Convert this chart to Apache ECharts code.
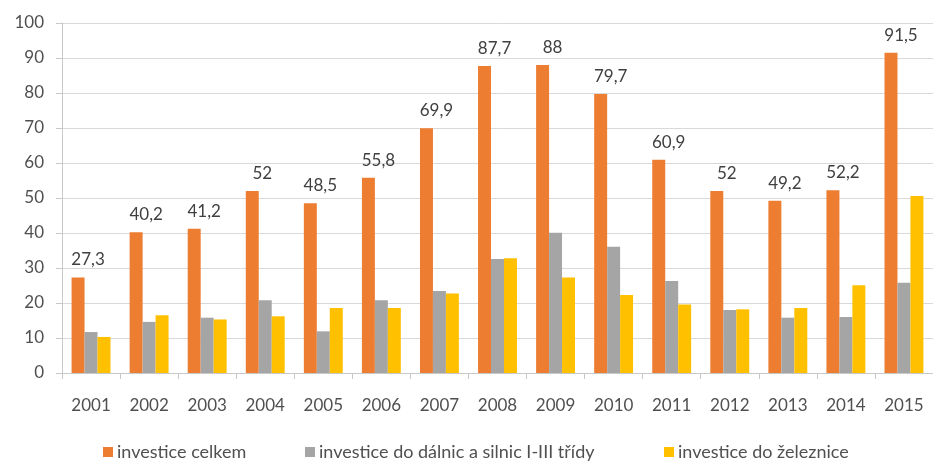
<!DOCTYPE html>
<html>
<head>
<meta charset="utf-8">
<script src="https://cdn.jsdelivr.net/npm/echarts@6/dist/echarts.min.js"></script>
<style>
  html, body { margin: 0; padding: 0; background: #fff; }
  #chart { width: 933px; height: 461px; }
</style>
</head>
<body>
<div id="chart"></div>
<script>
// Years on the category axis
const years = ['2001','2002','2003','2004','2005','2006','2007','2008','2009','2010','2011','2012','2013','2014','2015'];

// Investment totals and their parts (mld. Kč)
const celkem   = [27.3, 40.2, 41.2, 52, 48.5, 55.8, 69.9, 87.7, 88, 79.7, 60.9, 52, 49.2, 52.2, 91.5];
const silnice  = [11.7, 14.6, 15.8, 20.8, 11.9, 20.8, 23.4, 32.6, 40.1, 36.1, 26.3, 18.0, 15.8, 16.0, 25.8];
const zeleznice = [10.3, 16.5, 15.3, 16.2, 18.6, 18.6, 22.7, 32.8, 27.3, 22.3, 19.6, 18.2, 18.6, 25.1, 50.6];

const seriesNames = ['investice celkem', 'investice do dálnic a silnic I-III třídy', 'investice do železnice'];
const legendLeft = [103, 305, 664];

const fontFamily = 'Lato, "Open Sans", sans-serif';
const textColor = '#505050';

// one legend block per series so each entry sits at its own x position
const legends = seriesNames.map((name, i) => ({
  left: legendLeft[i],
  top: 443,
  padding: 0,
  itemWidth: 10,
  itemHeight: 10,
  itemGap: 0,
  icon: 'rect',
  textStyle: { fontSize: 18, color: textColor, fontFamily: fontFamily, padding: [0, 0, 0, -1] },
  data: [name]
}));

const chart = echarts.init(document.getElementById('chart'));
chart.setOption({
  backgroundColor: '#ffffff',
  animation: false,
  textStyle: { fontFamily: fontFamily },
  grid: { left: 62, right: 0, top: 23, bottom: 88 },
  legend: legends,
  xAxis: {
    type: 'category',
    data: years,
    axisLine: { lineStyle: { color: '#c8c8c8', width: 1 } },
    axisTick: { show: true, length: 6, lineStyle: { color: '#c8c8c8' } },
    axisLabel: { color: textColor, fontSize: 17, margin: 24 }
  },
  yAxis: {
    type: 'value',
    min: 0,
    max: 100,
    interval: 10,
    axisLine: { show: true, lineStyle: { color: '#c8c8c8', width: 1 } },
    axisTick: { show: true, length: 6, lineStyle: { color: '#c8c8c8' } },
    axisLabel: { color: textColor, fontSize: 17, margin: 18 },
    splitLine: { lineStyle: { color: '#d9d9d9', width: 1 } }
  },
  series: [
    {
      name: seriesNames[0],
      type: 'bar',
      data: celkem,
      barGap: '0%',
      barCategoryGap: '33%',
      itemStyle: { color: '#ED7D31' },
      label: {
        show: true,
        position: 'top',
        distance: 9,
        offset: [10, 0],
        color: '#404040',
        fontSize: 17,
        fontFamily: fontFamily,
        formatter: p => String(p.value).replace('.', ',')
      }
    },
    {
      name: seriesNames[1],
      type: 'bar',
      data: silnice,
      itemStyle: { color: '#A5A5A5' }
    },
    {
      name: seriesNames[2],
      type: 'bar',
      data: zeleznice,
      itemStyle: { color: '#FFC000' }
    }
  ]
});
</script>
</body>
</html>
